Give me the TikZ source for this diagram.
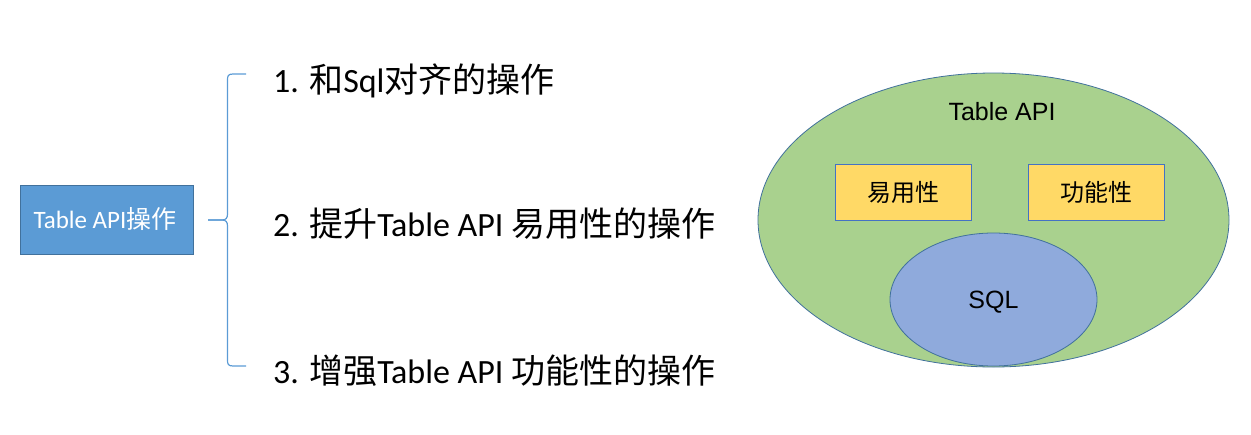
\documentclass[tikz,border=0pt]{standalone}
\usepackage{fontspec}
\usetikzlibrary{shapes.geometric}
\setmainfont{Carlito}
\newfontfamily\cjk{Noto Sans CJK SC}
\newfontfamily\arialf{Liberation Sans}
\definecolor{boxblue}{HTML}{5B9BD5}
\definecolor{boxedge}{HTML}{41719C}
\definecolor{bracec}{HTML}{5B9BD5}
\definecolor{greenfill}{HTML}{A9D18E}
\definecolor{yellowfill}{HTML}{FFD966}
\definecolor{yellowedge}{HTML}{4472C4}
\definecolor{sqlfill}{HTML}{8FAADC}
\begin{document}
\begin{tikzpicture}[x=1pt,y=-1pt,
  rootbox/.style={draw=boxedge,fill=boxblue,line width=0.8pt,minimum width=173pt,minimum height=69pt,inner sep=0pt},
  itemtext/.style={anchor=base west,inner sep=0pt,font=\fontsize{34}{40}\selectfont},
  bracestyle/.style={draw=bracec,line width=1.2pt},
  bigell/.style={ellipse,draw=boxedge,fill=greenfill,line width=0.8pt,minimum width=471pt,minimum height=294pt,inner sep=0pt},
  sqlell/.style={ellipse,draw=boxedge,fill=sqlfill,line width=0.8pt,minimum width=207pt,minimum height=133pt,inner sep=0pt},
  featbox/.style={draw=yellowedge,fill=yellowfill,line width=0.8pt,minimum width=136pt,minimum height=56pt,inner sep=0pt,font=\cjk\fontsize{24}{28}\selectfont},
  arialtext/.style={inner sep=0pt,anchor=base,font=\arialf\fontsize{25}{30}\selectfont}
]
\useasboundingbox (0,0) rectangle (1251,434);
% left root box
\node[rootbox] (root) at (106.5,219.5) {};
\node[anchor=base,inner sep=0pt,text=white,font=\fontsize{25}{30}\selectfont] (rootlabel) at (105,228) {Table API{\cjk 操作}};
% brace
\coordinate (btop) at (246,74);
\coordinate (bbot) at (246,366);
\coordinate (btip) at (208,220);
\draw[bracestyle] (btop) -- (233,74) .. controls (228,74) and (227.5,76) .. (227.5,80) -- (227.5,214) .. controls (227.5,218) and (226,220) .. (222,220) -- (btip);
\draw[bracestyle] (btip) -- (222,220) .. controls (226,220) and (227.5,222) .. (227.5,226) -- (227.5,360) .. controls (227.5,364) and (228,366) .. (233,366) -- (bbot);
% items
\node[itemtext] (i1) at (273,92) {1. {\cjk 和}Sql{\cjk 对齐的操作}};
\node[itemtext] (i2) at (273,236) {2. {\cjk 提升}Table API {\cjk 易用性的操作}};
\node[itemtext] (i3) at (273,383) {3. {\cjk 增强}Table API {\cjk 功能性的操作}};
% right diagram
\node[bigell] (tableapi) at (993.5,220) {};
\node[arialtext] (tlabel) at (1002,120) {Table API};
\node[featbox] (easy) at (903,192) {易用性};
\node[featbox] (func) at (1096.5,192) {功能性};
\node[sqlell] (sql) at (993.5,299.5) {};
\node[arialtext] (sqllabel) at (993.5,308) {SQL};
\end{tikzpicture}
\end{document}
